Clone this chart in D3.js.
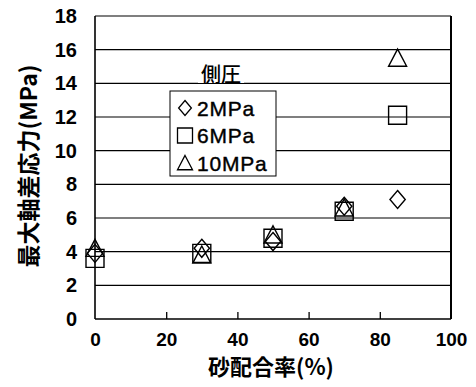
<!DOCTYPE html>
<html>
<head>
<meta charset="utf-8">
<script src="https://cdn.jsdelivr.net/npm/d3@7"></script>
<style>
  html, body { margin: 0; padding: 0; background: #fff; }
  svg { display: block; }
</style>
</head>
<body>
<svg id="chart" width="476" height="387"></svg>
<script>
// Sand content (%) of each specimen group
const sandRatio = [0, 30, 50, 70, 85];
// Maximum deviator stress (MPa) per confining pressure
const series2MPa  = [3.9, 4.2, 4.6, 6.7, 7.1];
const series6MPa  = [3.6, 3.9, 4.8, 6.4, 12.1];
const series10MPa = [4.2, 3.8, 5.0, 6.6, 15.5];
const seriesNames = ["2MPa", "6MPa", "10MPa"];
const seriesShapes = ["diamond", "square", "triangle"];
const xTicks = [0, 20, 40, 60, 80, 100];
const yTicks = [0, 2, 4, 6, 8, 10, 12, 14, 16, 18];
const xTitle = "砂配合率(%)";
const yTitle = "最大軸差応力(MPa)";
const legendTitle = "側圧";

const NUM_FONT = "'Liberation Sans', Arial, sans-serif";
const CJK_FONT = "'Noto Sans CJK JP', sans-serif";

const svg = d3.select("#chart");
const x = d3.scaleLinear().domain([0, 100]).range([95, 451]);
const y = d3.scaleLinear().domain([0, 18]).range([319, 16]);

// marker outlines, centred on the origin
function shapePath(kind, s) {
  const h = s / 2;
  const p = d3.path();
  if (kind === "square") {
    p.rect(-h, -h, s, s);
  } else if (kind === "diamond") {
    const w = h * 0.85;
    p.moveTo(0, -h); p.lineTo(w, 0); p.lineTo(0, h); p.lineTo(-w, 0); p.closePath();
  } else {
    p.moveTo(0, -h); p.lineTo(h, h * 0.9); p.lineTo(-h, h * 0.9); p.closePath();
  }
  return p.toString();
}

// horizontal gridlines
svg.append("g").selectAll("line").data(yTicks.filter(d => d > 0)).join("line")
  .attr("x1", x(0)).attr("x2", x(100))
  .attr("y1", d => y(d)).attr("y2", d => y(d))
  .attr("stroke", "#000").attr("stroke-width", 1.2);

// plot frame
svg.append("line").attr("x1", x(0)).attr("x2", x(0)).attr("y1", y(0)).attr("y2", y(18))
  .attr("stroke", "#000").attr("stroke-width", 1.6);
svg.append("line").attr("x1", x(100)).attr("x2", x(100)).attr("y1", y(0)).attr("y2", y(18))
  .attr("stroke", "#000").attr("stroke-width", 2);
svg.append("line").attr("x1", x(0)).attr("x2", x(100)).attr("y1", y(0)).attr("y2", y(0))
  .attr("stroke", "#000").attr("stroke-width", 1.6);

// x axis: inward ticks, labels below
const xAxis = d3.axisBottom(x).tickValues(xTicks).tickSize(-7).tickPadding(14).tickFormat(d3.format("d"));
const gx = svg.append("g").attr("transform", `translate(0,${y(0)})`).call(xAxis);
gx.select(".domain").remove();
gx.selectAll(".tick line").attr("stroke", "#000").attr("stroke-width", 1.3)
  .filter(d => d === 0 || d === 100).remove();
gx.selectAll(".tick text").style("font-family", NUM_FONT).style("font-weight", "bold")
  .style("font-size", "19px").attr("fill", "#000");

// y axis labels
const yAxis = d3.axisLeft(y).tickValues(yTicks).tickSize(0).tickPadding(18).tickFormat(d3.format("d"));
const gy = svg.append("g").attr("transform", `translate(${x(0)},0)`).call(yAxis);
gy.select(".domain").remove();
gy.selectAll(".tick text").style("font-family", NUM_FONT).style("font-weight", "bold")
  .style("font-size", "20px").attr("fill", "#000");

// axis titles
svg.append("text").attr("x", 271).attr("y", 375)
  .style("font-family", CJK_FONT).style("font-weight", "bold").style("font-size", "22px")
  .attr("text-anchor", "middle").text(xTitle);
svg.append("text")
  .attr("transform", "translate(37,166) rotate(-90)")
  .style("font-family", CJK_FONT).style("font-weight", "bold").style("font-size", "23px")
  .attr("text-anchor", "middle").text(yTitle);

// data markers
const allSeries = [series2MPa, series6MPa, series10MPa];
allSeries.forEach((vals, i) => {
  svg.append("g").selectAll("path").data(vals).join("path")
    .attr("transform", (d, j) => `translate(${x(sandRatio[j])},${y(d)})`)
    .attr("d", shapePath(seriesShapes[i], 18))
    .attr("fill", "none").attr("stroke", "#000").attr("stroke-width", 1.4);
});

// legend
const lg = svg.append("g");
lg.append("rect").attr("x", 198).attr("y", 65).attr("width", 46).attr("height", 18).attr("fill", "#fff");
lg.append("text").attr("x", 221).attr("y", 82)
  .style("font-family", CJK_FONT).style("font-weight", "500").style("font-size", "20px")
  .attr("text-anchor", "middle").text(legendTitle);
lg.append("rect").attr("x", 170).attr("y", 91).attr("width", 106).attr("height", 85)
  .attr("fill", "#fff").attr("stroke", "#000").attr("stroke-width", 1);
seriesNames.forEach((name, i) => {
  const cy = 108 + i * 27.5;
  lg.append("path").attr("transform", `translate(185,${cy})`)
    .attr("d", shapePath(seriesShapes[i], 15))
    .attr("fill", "none").attr("stroke", "#000").attr("stroke-width", 1.3);
  lg.append("text").attr("x", 197).attr("y", cy + 7.5)
    .style("font-family", NUM_FONT).style("font-size", "21px").style("letter-spacing", "0.8px")
    .style("stroke", "#000").style("stroke-width", "0.4px")
    .text(name);
});
</script>
</body>
</html>
